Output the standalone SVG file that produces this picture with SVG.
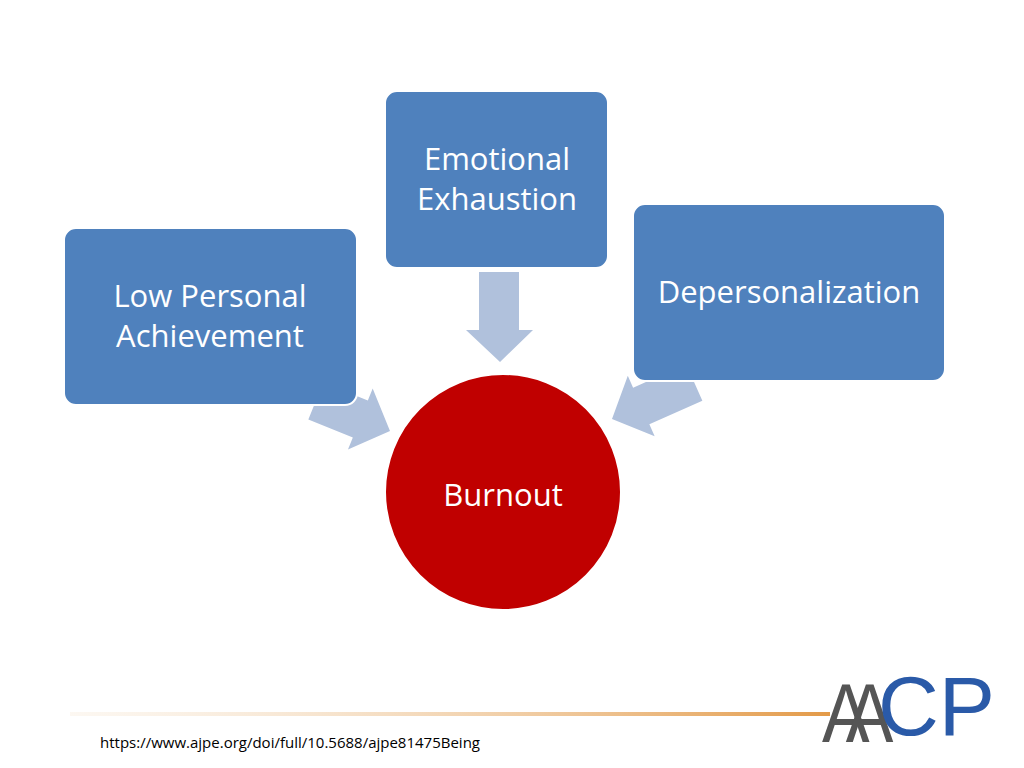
<svg xmlns="http://www.w3.org/2000/svg" width="1024" height="768" viewBox="0 0 1024 768">
<style>
.box{fill:#4F81BD;stroke:#fff;stroke-width:2}
.t{font-family:"Open Sans","Noto Sans","DejaVu Sans",sans-serif;fill:#fff;font-size:31px;text-anchor:middle}
.arr{fill:#B0C1DC}
</style>
<defs>
<linearGradient id="g" x1="0" x2="1"><stop offset="0" stop-color="#F6E6D2" stop-opacity="0.3"/><stop offset="1" stop-color="#E39A48"/></linearGradient>
</defs>
<rect width="1024" height="768" fill="#fff"/>
<g id="connectors">
<polygon class="arr" points="479,272 519,272 519,330 533,330 500,362 466,330 479,330"/>
<polygon class="arr" transform="translate(390,431) rotate(22)" points="0,0 -32,-33 -32,-20 -80,-20 -80,20 -32,20 -32,33"/>
<polygon class="arr" transform="translate(612,419) rotate(156)" points="0,0 -32,-33 -32,-20 -90,-20 -90,20 -32,20 -32,33"/>
</g>
<g id="low"><rect class="box" x="64" y="228" width="293" height="177" rx="12"/><text class="t" x="210" y="307">Low Personal</text><text class="t" x="210" y="347">Achievement</text></g>
<g id="emo"><rect class="box" x="385" y="91" width="223" height="177" rx="12"/><text class="t" x="497" y="170">Emotional</text><text class="t" x="497" y="210">Exhaustion</text></g>
<g id="dep"><rect class="box" x="633" y="204" width="312" height="177" rx="12"/><text class="t" x="789" y="303">Depersonalization</text></g>
<g id="burnout"><circle cx="503" cy="492" r="118" fill="#C00000" stroke="#fff" stroke-width="2"/><text class="t" x="503" y="506" font-size="42">Burnout</text></g>
<rect x="70" y="712" width="760" height="4" fill="url(#g)"/>
<text x="100" y="748" font-family="'Open Sans','Noto Sans',sans-serif" font-size="15" fill="#000">https://www.ajpe.org/doi/full/10.5688/ajpe81475Being</text>
<g id="logo" font-family="'Liberation Sans',sans-serif" font-size="84">
<text x="0" y="0" transform="translate(822,742) scale(0.85,1)" fill="#555" letter-spacing="-28">AA</text>
<text x="878" y="735" fill="#2A5AA8" textLength="117" lengthAdjust="spacingAndGlyphs">CP</text>
</g>
</svg>
